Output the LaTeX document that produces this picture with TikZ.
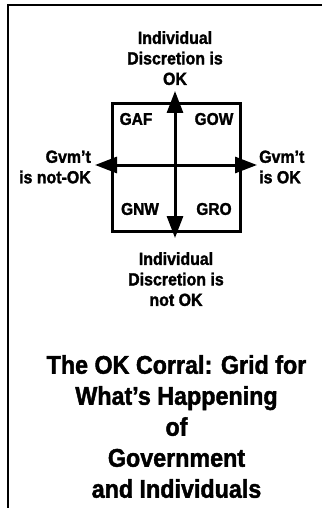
\documentclass[tikz,border=0pt]{standalone}
\usepackage{fontspec}
\setmainfont{Liberation Sans}[BoldFeatures={FakeBold=1.6,FakeStretch=0.91}]
\usetikzlibrary{arrows.meta}
\begin{document}
\begin{tikzpicture}[x=1pt,y=1pt,
  lbl/.style={inner sep=0pt, font=\bfseries\fontsize{17.5}{20.5}\selectfont},
  quad/.style={inner sep=0pt, font=\bfseries\fontsize{17}{18}\selectfont},
  ttl/.style={inner sep=0pt, align=center, font=\bfseries\fontsize{25.6}{31}\selectfont},
  axis/.style={line width=3pt, {Triangle[length=22pt,width=16pt]}-{Triangle[length=22pt,width=16pt]}},
  frameline/.style={line width=2pt}
]
\useasboundingbox (0,0) rectangle (321,-508);
% frame (only top and left edges visible)
\coordinate (fbl) at (8,-510);
\coordinate (ftl) at (8,-5);
\coordinate (ftr) at (323,-5);
\draw[frameline] (fbl) -- (ftl) -- (ftr);
% grid box
\node[draw, line width=3pt, minimum width=128pt, minimum height=128pt, inner sep=0pt] (grid) at (176,-167.5) {};
% axes
\coordinate (vtop) at (175,-91);
\coordinate (vbot) at (175,-238);
\coordinate (hleft) at (95,-165);
\coordinate (hright) at (257,-165);
\draw[axis] (vbot) -- (vtop);
\draw[axis] (hleft) -- (hright);
% quadrant labels
\node[quad] (gaf) at (136,-119) {GAF};
\node[quad] (gow) at (214,-119) {GOW};
\node[quad] (gnw) at (140,-209) {GNW};
\node[quad] (gro) at (214,-209) {GRO};
% axis labels
\node[lbl, align=center, anchor=north] (top) at (175,-31) {Individual\\Discretion is\\OK};
\node[lbl, align=center, anchor=north] (bot) at (176,-252) {Individual\\Discretion is\\not OK};
\node[lbl, align=right, anchor=east] (left) at (91,-167) {Gvm't\\is not-OK};
\node[lbl, align=left, anchor=west] (right) at (259,-167) {Gvm't\\is OK};
% title
\node[ttl, anchor=north] (title) at (176.5,-355) {The OK Corral: Grid for\\What’s Happening\\of\\Government\\and Individuals};
\end{tikzpicture}
\end{document}
